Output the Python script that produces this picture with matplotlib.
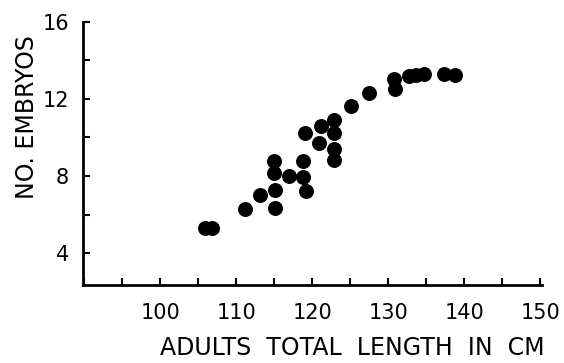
import matplotlib.pyplot as plt
from matplotlib.ticker import MultipleLocator

# adult total length (cm) and number of embryos
length_cm = [105.9, 106.8, 111.1, 113.1, 115.1, 115.1, 114.9, 114.9, 116.9,
             119.1, 118.8, 118.8, 119.0, 120.8, 121.1, 122.8, 122.8, 122.8,
             122.8, 125.1, 127.4, 130.7, 130.8, 132.7, 133.6, 134.7, 137.3, 138.8]
embryos = [5.3, 5.3, 6.3, 7.0, 6.35, 7.3, 8.15, 8.8, 8.0,
           7.2, 7.95, 8.8, 10.25, 9.7, 10.6, 10.9, 10.25, 9.4,
           8.85, 11.65, 12.3, 13.05, 12.5, 13.2, 13.25, 13.3, 13.3, 13.25]

x_labels = [100, 110, 120, 130, 140, 150]
y_labels = [4, 8, 12, 16]

plt.rcParams['font.family'] = 'DejaVu Sans'
fig = plt.figure(figsize=(5.64, 3.63), dpi=100)
ax = fig.add_axes([0.147, 0.215, 0.814, 0.725])

ax.scatter(length_cm, embryos, s=95, color='black', zorder=3)

ax.set_xlim(89.8, 150.2)
ax.set_ylim(2.35, 16)
ax.set_xticks(x_labels)
ax.set_yticks(y_labels)
ax.xaxis.set_minor_locator(MultipleLocator(5))
ax.yaxis.set_minor_locator(MultipleLocator(2))
ax.tick_params(which='both', direction='in', width=1.5, length=5, labelsize=15)
ax.tick_params(axis='x', pad=13)
ax.tick_params(axis='y', pad=10)

for side in ['top', 'right']:
    ax.spines[side].set_visible(False)
for side in ['left', 'bottom']:
    ax.spines[side].set_linewidth(2)

fig.text(0.625, 0.04, "ADULTS  TOTAL  LENGTH  IN  CM", ha='center', va='center', fontsize=17)
fig.text(0.048, 0.678, "NO. EMBRYOS", ha='center', va='center', rotation=90, fontsize=17)

fig.savefig("out.png", dpi=100)
